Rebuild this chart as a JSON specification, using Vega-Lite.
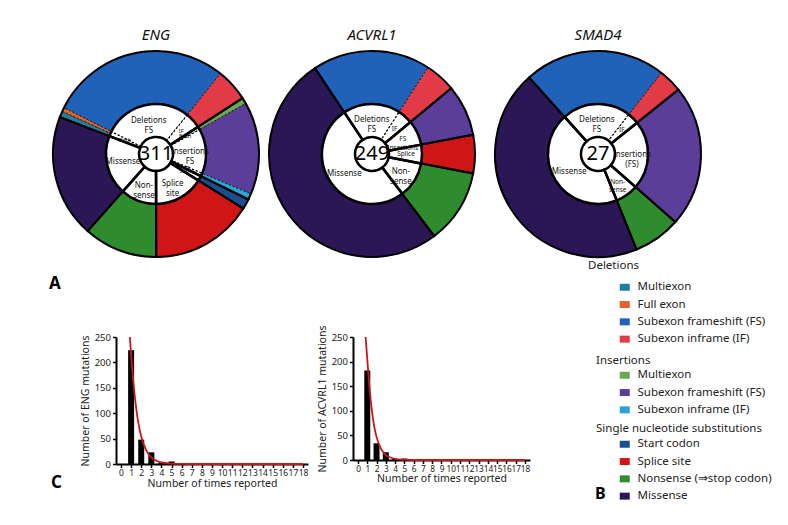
{
 "$schema": "https://vega.github.io/schema/vega-lite/v6.json",
 "padding": {"left": 49, "top": 28, "right": 5, "bottom": 5},
 "background": "white",
 "config": {
  "font": "Noto Sans",
  "view": {"stroke": null},
  "axis": {"grid": false, "domainColor": "#000", "domainWidth": 2, "tickColor": "#000", "tickWidth": 1.5, "tickSize": 3.5, "labelFontSize": 9.5, "labelPadding": 1, "labelColor": "#222", "titleFontSize": 10.5, "titleFontWeight": "normal", "titleColor": "#222"},
  "legend": {"titleFontSize": 11.5, "titleFontWeight": "normal", "titleColor": "#222", "labelFontSize": 11.5, "labelColor": "#222", "symbolType": "M-1,-0.7H1V0.7H-1Z", "symbolSize": 100, "symbolStrokeWidth": 0, "symbolOpacity": 1, "rowPadding": 4.3, "titlePadding": 5, "labelOffset": 7, "labelLimit": 300, "titleLimit": 300},
  "title": {"color": "#111", "fontWeight": "normal"}
 },
 "datasets": {
  "eng": [
   {"seg": "DM", "sub": "DBoth", "lab": "Both", "grp": "Del", "n": 3, "o": 1},
   {"seg": "DX", "sub": "DBoth", "lab": "Both", "grp": "Del", "n": 2, "o": 2},
   {"seg": "DFS", "sub": "DFS", "lab": "Deletions\nFS", "grp": "Del", "n": 88, "o": 3},
   {"seg": "DIF", "sub": "DIF", "lab": "IF", "grp": "Del", "n": 16, "o": 4},
   {"seg": "IM", "sub": "IBoth", "lab": "Both", "grp": "Ins", "n": 3, "o": 5},
   {"seg": "IFS", "sub": "IFS", "lab": "Insertions\nFS", "grp": "Ins", "n": 45, "o": 6},
   {"seg": "IIF", "sub": "IIF", "lab": "IF", "grp": "Ins", "n": 3, "o": 7},
   {"seg": "SC", "sub": "SC", "lab": "Start", "grp": "SC", "n": 5, "o": 8},
   {"seg": "SS", "sub": "SS", "lab": "Splice\nsite", "grp": "SS", "n": 50, "o": 9},
   {"seg": "NS", "sub": "NS", "lab": "Non-\nsense", "grp": "NS", "n": 36, "o": 10},
   {"seg": "MS", "sub": "MS", "lab": "Missense", "grp": "MS", "n": 60, "o": 11}
  ],
  "acv": [
   {"seg": "DFS", "sub": "DFS", "lab": "Deletions\nFS", "grp": "Del", "n": 46, "o": 1},
   {"seg": "DIF", "sub": "DIF", "lab": "IF", "grp": "Del", "n": 12, "o": 2},
   {"seg": "IFS", "sub": "IFS", "lab": "FS\nInsertions", "grp": "Ins", "n": 20, "o": 3},
   {"seg": "SS", "sub": "SS", "lab": "Splice", "grp": "SS", "n": 15, "o": 4},
   {"seg": "NS", "sub": "NS", "lab": "Non-\nsense", "grp": "NS", "n": 29, "o": 5},
   {"seg": "MS", "sub": "MS", "lab": "Missense", "grp": "MS", "n": 127, "o": 6}
  ],
  "smad": [
   {"seg": "DFS", "sub": "DFS", "lab": "Deletions\nFS", "grp": "Del", "n": 6, "o": 1},
   {"seg": "DIF", "sub": "DIF", "lab": "IF", "grp": "Del", "n": 1, "o": 2},
   {"seg": "IFS", "sub": "IFS", "lab": "Insertions\n(FS)", "grp": "Ins", "n": 6, "o": 3},
   {"seg": "NS", "sub": "NS", "lab": "Non-\nsense", "grp": "NS", "n": 2, "o": 4},
   {"seg": "MS", "sub": "MS", "lab": "Missense", "grp": "MS", "n": 12, "o": 5}
  ],
  "engbars": [{"x": 1, "y": 224}, {"x": 2, "y": 48}, {"x": 3, "y": 23}, {"x": 4, "y": 3}, {"x": 5, "y": 5}, {"x": 6, "y": 2}],
  "acvbars": [{"x": 1, "y": 182}, {"x": 2, "y": 34}, {"x": 3, "y": 16}, {"x": 4, "y": 2}, {"x": 5, "y": 3}],
  "engfit": [{"x": 0.88, "y": 250}, {"x": 1, "y": 215}, {"x": 1.25, "y": 155}, {"x": 1.5, "y": 110}, {"x": 1.75, "y": 77}, {"x": 2, "y": 54}, {"x": 2.5, "y": 27}, {"x": 3, "y": 13}, {"x": 3.5, "y": 6.5}, {"x": 4, "y": 3}, {"x": 5, "y": 0.8}, {"x": 6, "y": 0.2}, {"x": 7, "y": 0}, {"x": 18, "y": 0}],
  "acvfit": [{"x": 0.82, "y": 250}, {"x": 1, "y": 205}, {"x": 1.25, "y": 145}, {"x": 1.5, "y": 100}, {"x": 1.75, "y": 68}, {"x": 2, "y": 47}, {"x": 2.5, "y": 22}, {"x": 3, "y": 10}, {"x": 3.5, "y": 5}, {"x": 4, "y": 2.4}, {"x": 5, "y": 0.6}, {"x": 6, "y": 0}, {"x": 18, "y": 0}],
  "legend": [
   {"g": "Deletions", "item": "Multiexon"}, {"g": "Deletions", "item": "Full exon"}, {"g": "Deletions", "item": "Subexon frameshift (FS)"}, {"g": "Deletions", "item": "Subexon inframe (IF)"},
   {"g": "Insertions", "item": "Multiexon"}, {"g": "Insertions", "item": "Subexon frameshift (FS)"}, {"g": "Insertions", "item": "Subexon inframe (IF)"},
   {"g": "SNS", "item": "Start codon"}, {"g": "SNS", "item": "Splice site"}, {"g": "SNS", "item": "Nonsense (⇒stop codon)"}, {"g": "SNS", "item": "Missense"}
  ]
 },
 "spacing": 288,
 "bounds": "flush",
 "resolve": {"scale": {"color": "independent", "theta": "independent", "x": "independent", "y": "independent"}, "legend": {"color": "independent"}},
 "vconcat": [
  {
   "title": {"text": "A", "orient": "bottom", "anchor": "start", "fontSize": 17, "fontWeight": "bold", "offset": 15, "color": "#000"},
   "spacing": 0,
   "bounds": "flush",
   "resolve": {"scale": {"color": "independent", "theta": "independent"}, "legend": {"color": "independent"}},
   "hconcat": [
    {
     "width": 210, "height": 210,
     "title": {"text": "ENG", "fontStyle": "italic", "fontSize": 15, "offset": 4},
     "data": {"name": "eng"},
     "layer": [
      {"mark": {"type": "arc", "innerRadius": 50, "outerRadius": 103, "stroke": "#111", "strokeWidth": 1, "strokeDash": [2, 2]},
       "encoding": {"theta": {"field": "n", "type": "quantitative", "stack": true, "scale": {"range": [-1.2043, 5.0789]}}, "order": {"field": "o", "type": "quantitative"},
        "color": {"field": "seg", "type": "nominal", "legend": null, "scale": {"domain": ["DM", "DX", "DFS", "DIF", "IM", "IFS", "IIF", "SC", "SS", "NS", "MS"], "range": ["#1f7f9e", "#e5602a", "#1f62b8", "#e23b47", "#6aa84f", "#5a3e9a", "#2ba3d4", "#1a4e8c", "#cf1515", "#2e8b2e", "#2b1756"]}}}},
      {"transform": [{"aggregate": [{"op": "sum", "field": "n", "as": "n"}, {"op": "min", "field": "o", "as": "o"}], "groupby": ["grp"]}],
       "mark": {"type": "arc", "innerRadius": 50, "outerRadius": 103, "fill": "white", "fillOpacity": 0, "stroke": "#000", "strokeWidth": 2},
       "encoding": {"theta": {"field": "n", "type": "quantitative", "stack": true, "scale": {"range": [-1.2043, 5.0789]}}, "order": {"field": "o", "type": "quantitative"}}},
      {"transform": [{"aggregate": [{"op": "sum", "field": "n", "as": "n"}, {"op": "min", "field": "o", "as": "o"}], "groupby": ["sub", "lab"]}],
       "mark": {"type": "arc", "innerRadius": 17, "outerRadius": 50, "fill": "white", "stroke": "#000", "strokeWidth": 1.2, "strokeDash": [2, 2]},
       "encoding": {"theta": {"field": "n", "type": "quantitative", "stack": true, "scale": {"range": [-1.2043, 5.0789]}}, "order": {"field": "o", "type": "quantitative"}}},
      {"transform": [{"aggregate": [{"op": "sum", "field": "n", "as": "n"}, {"op": "min", "field": "o", "as": "o"}], "groupby": ["grp"]}],
       "mark": {"type": "arc", "innerRadius": 17, "outerRadius": 50, "fill": "white", "fillOpacity": 0, "stroke": "#000", "strokeWidth": 2.5},
       "encoding": {"theta": {"field": "n", "type": "quantitative", "stack": true, "scale": {"range": [-1.2043, 5.0789]}}, "order": {"field": "o", "type": "quantitative"}}},
      {"transform": [{"aggregate": [{"op": "sum", "field": "n", "as": "n"}, {"op": "min", "field": "o", "as": "o"}], "groupby": ["sub", "lab"]}],
       "mark": {"type": "text", "radius": 34, "lineBreak": "\n", "color": "#111", "align": "center", "baseline": "middle"},
       "encoding": {"theta": {"field": "n", "type": "quantitative", "stack": true, "scale": {"range": [-1.2043, 5.0789]}}, "order": {"field": "o", "type": "quantitative"},
        "text": {"field": "lab"}, "size": {"condition": {"test": "datum.n < 17", "value": 5.5}, "value": 8}}},
      {"transform": [{"aggregate": [{"op": "sum", "field": "n", "as": "total"}]}],
       "mark": {"type": "text", "fontSize": 20, "color": "#000", "baseline": "middle"},
       "encoding": {"text": {"field": "total", "type": "quantitative"}}}
     ]
    },
    {
     "width": 222, "height": 210,
     "title": {"text": "ACVRL1", "fontStyle": "italic", "fontSize": 15, "offset": 4},
     "data": {"name": "acv"},
     "layer": [
      {"mark": {"type": "arc", "innerRadius": 50, "outerRadius": 103, "stroke": "#111", "strokeWidth": 1, "strokeDash": [2, 2]},
       "encoding": {"theta": {"field": "n", "type": "quantitative", "stack": true, "scale": {"range": [-0.5864, 5.6968]}}, "order": {"field": "o", "type": "quantitative"},
        "color": {"field": "seg", "type": "nominal", "legend": null, "scale": {"domain": ["DM", "DX", "DFS", "DIF", "IM", "IFS", "IIF", "SC", "SS", "NS", "MS"], "range": ["#1f7f9e", "#e5602a", "#1f62b8", "#e23b47", "#6aa84f", "#5a3e9a", "#2ba3d4", "#1a4e8c", "#cf1515", "#2e8b2e", "#2b1756"]}}}},
      {"transform": [{"aggregate": [{"op": "sum", "field": "n", "as": "n"}, {"op": "min", "field": "o", "as": "o"}], "groupby": ["grp"]}],
       "mark": {"type": "arc", "innerRadius": 50, "outerRadius": 103, "fill": "white", "fillOpacity": 0, "stroke": "#000", "strokeWidth": 2},
       "encoding": {"theta": {"field": "n", "type": "quantitative", "stack": true, "scale": {"range": [-0.5864, 5.6968]}}, "order": {"field": "o", "type": "quantitative"}}},
      {"transform": [{"aggregate": [{"op": "sum", "field": "n", "as": "n"}, {"op": "min", "field": "o", "as": "o"}], "groupby": ["sub", "lab"]}],
       "mark": {"type": "arc", "innerRadius": 17, "outerRadius": 50, "fill": "white", "stroke": "#000", "strokeWidth": 1.2, "strokeDash": [2, 2]},
       "encoding": {"theta": {"field": "n", "type": "quantitative", "stack": true, "scale": {"range": [-0.5864, 5.6968]}}, "order": {"field": "o", "type": "quantitative"}}},
      {"transform": [{"aggregate": [{"op": "sum", "field": "n", "as": "n"}, {"op": "min", "field": "o", "as": "o"}], "groupby": ["grp"]}],
       "mark": {"type": "arc", "innerRadius": 17, "outerRadius": 50, "fill": "white", "fillOpacity": 0, "stroke": "#000", "strokeWidth": 2.5},
       "encoding": {"theta": {"field": "n", "type": "quantitative", "stack": true, "scale": {"range": [-0.5864, 5.6968]}}, "order": {"field": "o", "type": "quantitative"}}},
      {"transform": [{"aggregate": [{"op": "sum", "field": "n", "as": "n"}, {"op": "min", "field": "o", "as": "o"}], "groupby": ["sub", "lab"]}],
       "mark": {"type": "text", "radius": 34, "lineBreak": "\n", "color": "#111", "align": "center", "baseline": "middle"},
       "encoding": {"theta": {"field": "n", "type": "quantitative", "stack": true, "scale": {"range": [-0.5864, 5.6968]}}, "order": {"field": "o", "type": "quantitative"},
        "text": {"field": "lab"}, "size": {"condition": {"test": "datum.n < 21", "value": 6.5}, "value": 8}}},
      {"transform": [{"aggregate": [{"op": "sum", "field": "n", "as": "total"}]}],
       "mark": {"type": "text", "fontSize": 20, "color": "#000", "baseline": "middle"},
       "encoding": {"text": {"field": "total", "type": "quantitative"}}}
     ]
    },
    {
     "width": 230, "height": 210,
     "title": {"text": "SMAD4", "fontStyle": "italic", "fontSize": 15, "offset": 4},
     "data": {"name": "smad"},
     "layer": [
      {"mark": {"type": "arc", "innerRadius": 50, "outerRadius": 103, "stroke": "#111", "strokeWidth": 1, "strokeDash": [2, 2]},
       "encoding": {"theta": {"field": "n", "type": "quantitative", "stack": true, "scale": {"range": [-0.733, 5.5502]}}, "order": {"field": "o", "type": "quantitative"},
        "color": {"field": "seg", "type": "nominal", "legend": null, "scale": {"domain": ["DM", "DX", "DFS", "DIF", "IM", "IFS", "IIF", "SC", "SS", "NS", "MS"], "range": ["#1f7f9e", "#e5602a", "#1f62b8", "#e23b47", "#6aa84f", "#5a3e9a", "#2ba3d4", "#1a4e8c", "#cf1515", "#2e8b2e", "#2b1756"]}}}},
      {"transform": [{"aggregate": [{"op": "sum", "field": "n", "as": "n"}, {"op": "min", "field": "o", "as": "o"}], "groupby": ["grp"]}],
       "mark": {"type": "arc", "innerRadius": 50, "outerRadius": 103, "fill": "white", "fillOpacity": 0, "stroke": "#000", "strokeWidth": 2},
       "encoding": {"theta": {"field": "n", "type": "quantitative", "stack": true, "scale": {"range": [-0.733, 5.5502]}}, "order": {"field": "o", "type": "quantitative"}}},
      {"transform": [{"aggregate": [{"op": "sum", "field": "n", "as": "n"}, {"op": "min", "field": "o", "as": "o"}], "groupby": ["sub", "lab"]}],
       "mark": {"type": "arc", "innerRadius": 17, "outerRadius": 50, "fill": "white", "stroke": "#000", "strokeWidth": 1.2, "strokeDash": [2, 2]},
       "encoding": {"theta": {"field": "n", "type": "quantitative", "stack": true, "scale": {"range": [-0.733, 5.5502]}}, "order": {"field": "o", "type": "quantitative"}}},
      {"transform": [{"aggregate": [{"op": "sum", "field": "n", "as": "n"}, {"op": "min", "field": "o", "as": "o"}], "groupby": ["grp"]}],
       "mark": {"type": "arc", "innerRadius": 17, "outerRadius": 50, "fill": "white", "fillOpacity": 0, "stroke": "#000", "strokeWidth": 2.5},
       "encoding": {"theta": {"field": "n", "type": "quantitative", "stack": true, "scale": {"range": [-0.733, 5.5502]}}, "order": {"field": "o", "type": "quantitative"}}},
      {"transform": [{"aggregate": [{"op": "sum", "field": "n", "as": "n"}, {"op": "min", "field": "o", "as": "o"}], "groupby": ["sub", "lab"]}],
       "mark": {"type": "text", "radius": 34, "lineBreak": "\n", "color": "#111", "align": "center", "baseline": "middle"},
       "encoding": {"theta": {"field": "n", "type": "quantitative", "stack": true, "scale": {"range": [-0.733, 5.5502]}}, "order": {"field": "o", "type": "quantitative"},
        "text": {"field": "lab"}, "size": {"condition": {"test": "datum.n < 3", "value": 6.5}, "value": 8}}},
      {"transform": [{"aggregate": [{"op": "sum", "field": "n", "as": "total"}]}],
       "mark": {"type": "text", "fontSize": 20, "color": "#000", "baseline": "middle"},
       "encoding": {"text": {"field": "total", "type": "quantitative"}}}
     ]
    }
   ]
  },
  {
   "spacing": 45,
   "bounds": "flush",
   "resolve": {"scale": {"color": "independent", "x": "independent", "y": "independent"}, "legend": {"color": "independent"}},
   "hconcat": [
    {
     "width": 20, "height": 127,
     "title": {"text": "C", "orient": "bottom", "anchor": "start", "fontSize": 17, "fontWeight": "bold", "offset": 11, "color": "#000"},
     "data": {"values": [{"k": 1}]},
     "mark": {"type": "point", "size": 0, "opacity": 0},
     "encoding": {}
    },
    {
     "width": 192, "height": 127,
     "encoding": {
      "x": {"field": "x", "type": "quantitative", "scale": {"domain": [0, 18], "nice": false}, "axis": {"values": [0, 1, 2, 3, 4, 5, 6, 7, 8, 9, 10, 11, 12, 13, 14, 15, 16, 17, 18], "labelOverlap": false, "labelFlush": false, "labelFontSize": 8.5, "title": "Number of times reported", "titlePadding": 1}},
      "y": {"field": "y", "type": "quantitative", "scale": {"domain": [0, 250], "nice": false}, "axis": {"values": [0, 50, 100, 150, 200, 250], "title": "Number of ENG mutations", "titlePadding": 4, "labelPadding": 2}}
     },
     "layer": [
      {"data": {"name": "engbars"}, "mark": {"type": "bar", "orient": "vertical", "size": 6, "color": "#000"}},
      {"data": {"name": "engfit"}, "mark": {"type": "line", "color": "#c8161d", "strokeWidth": 1.8, "interpolate": "monotone"}}
     ]
    },
    {
     "width": 177, "height": 123,
     "encoding": {
      "x": {"field": "x", "type": "quantitative", "scale": {"domain": [0, 18], "nice": false}, "axis": {"values": [0, 1, 2, 3, 4, 5, 6, 7, 8, 9, 10, 11, 12, 13, 14, 15, 16, 17, 18], "labelOverlap": false, "labelFlush": false, "labelFontSize": 8.3, "title": "Number of times reported", "titlePadding": 1}},
      "y": {"field": "y", "type": "quantitative", "scale": {"domain": [0, 250], "nice": false}, "axis": {"values": [0, 50, 100, 150, 200, 250], "title": "Number of ACVRL1 mutations", "titlePadding": 4, "labelPadding": 2}}
     },
     "layer": [
      {"data": {"name": "acvbars"}, "mark": {"type": "bar", "orient": "vertical", "size": 6, "color": "#000"}},
      {"data": {"name": "acvfit"}, "mark": {"type": "line", "color": "#c8161d", "strokeWidth": 1.8, "interpolate": "monotone"}}
     ]
    },
    {
     "width": 170, "height": 140,
     "title": {"text": "B", "orient": "bottom", "anchor": "start", "dx": 20, "fontSize": 16, "fontWeight": "bold", "offset": -16, "color": "#000"},
     "data": {"name": "legend"},
     "resolve": {"scale": {"color": "independent"}, "legend": {"color": "independent"}},
     "layer": [
      {"transform": [{"filter": "datum.g === 'Deletions'"}],
       "mark": {"type": "point", "filled": true, "size": 0, "opacity": 1},
       "encoding": {"color": {"field": "item", "type": "nominal",
        "scale": {"domain": ["Multiexon", "Full exon", "Subexon frameshift (FS)", "Subexon inframe (IF)"], "range": ["#1f7f9e", "#e5602a", "#1f62b8", "#e23b47"]},
        "legend": {"title": "Deletions", "orient": "none", "legendX": 13, "legendY": -77, "titlePadding": 10, "symbolOffset": 31, "symbolOpacity": 1}}}},
      {"transform": [{"filter": "datum.g === 'Insertions'"}],
       "mark": {"type": "point", "filled": true, "size": 0, "opacity": 1},
       "encoding": {"color": {"field": "item", "type": "nominal",
        "scale": {"domain": ["Multiexon", "Subexon frameshift (FS)", "Subexon inframe (IF)"], "range": ["#6aa84f", "#5a3e9a", "#2ba3d4"]},
        "legend": {"title": "Insertions", "orient": "none", "legendX": 21, "legendY": 18, "titlePadding": 3, "symbolOffset": 23, "symbolOpacity": 1}}}},
      {"transform": [{"filter": "datum.g === 'SNS'"}],
       "mark": {"type": "point", "filled": true, "size": 0, "opacity": 1},
       "encoding": {"color": {"field": "item", "type": "nominal",
        "scale": {"domain": ["Start codon", "Splice site", "Nonsense (⇒stop codon)", "Missense"], "range": ["#1a4e8c", "#cf1515", "#2e8b2e", "#2b1756"]},
        "legend": {"title": "Single nucleotide substitutions", "orient": "none", "legendX": 21, "legendY": 86, "titlePadding": 4, "symbolOffset": 23, "symbolOpacity": 1}}}}
     ]
    }
   ]
  }
 ]
}
